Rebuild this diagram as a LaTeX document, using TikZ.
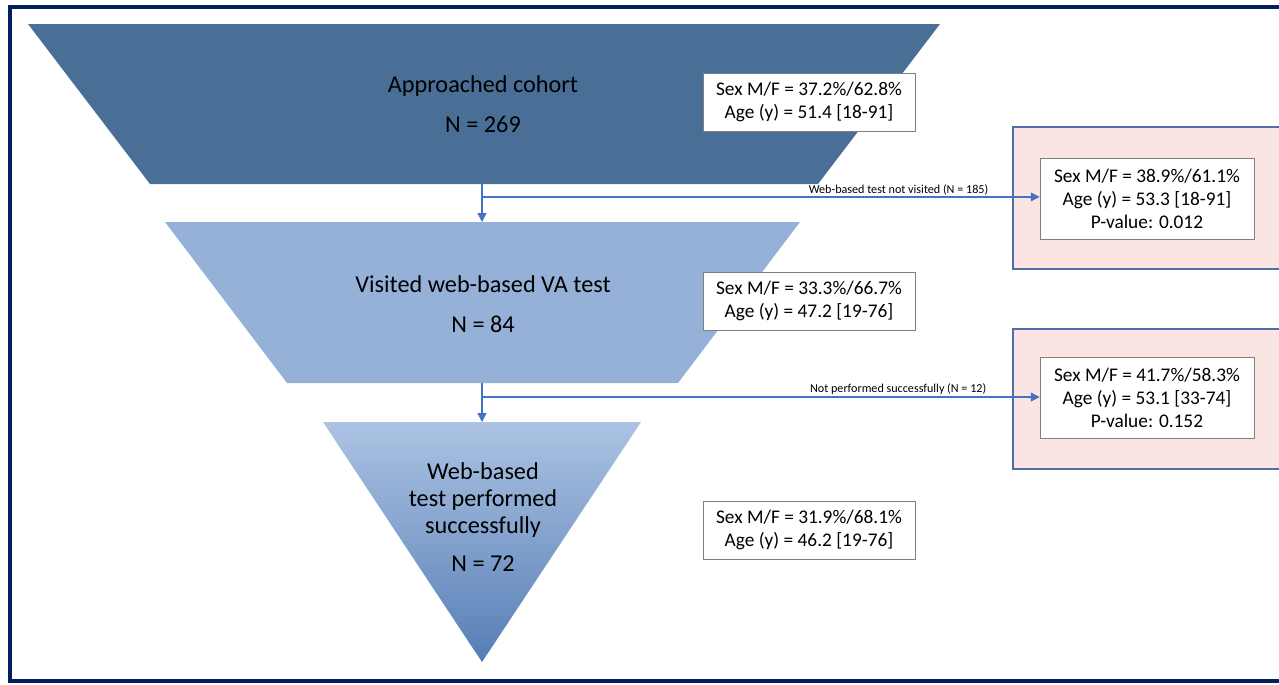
\documentclass[tikz,border=0pt]{standalone}
\usepackage{fontspec}
\setmainfont{Carlito}
\usetikzlibrary{positioning}
\usetikzlibrary{calc}
\usetikzlibrary{arrows.meta}
\definecolor{framenavy}{RGB}{4,30,94}
\definecolor{cohortblue}{RGB}{74,111,150}
\definecolor{visitblue}{RGB}{149,177,215}
\definecolor{tritop}{RGB}{172,195,227}
\definecolor{tribottom}{RGB}{86,126,181}
\definecolor{linkblue}{RGB}{68,114,196}
\definecolor{pinkfill}{RGB}{251,229,227}
\definecolor{pinkedge}{RGB}{80,110,170}
\newcommand{\funnelfont}{\fontsize{13.8}{15.6}\selectfont}
\newcommand{\statfont}{\fontsize{11}{13.1}\selectfont}
\newcommand{\linkfont}{\fontsize{6.9}{8}\selectfont}

\begin{document}
\begin{tikzpicture}[x=0.02cm, y=-0.02cm, >={Triangle[length=5pt, width=5pt]}, font=\statfont]
    \tikzstyle{funneltext}=[align=center, inner sep=0pt, font=\funnelfont]
    \tikzstyle{stat}=[draw=gray, fill=white, minimum width=4.24cm, minimum height=1.16cm, align=center, inner sep=0pt]
    \tikzstyle{compare}=[draw=gray, fill=white, minimum width=4.28cm, minimum height=1.62cm, align=center, inner sep=0pt]
    \tikzstyle{pinkbox}=[draw=pinkedge, fill=pinkfill, line width=0.8pt, minimum width=5.6cm, inner sep=0pt]
    \tikzstyle{link}=[->, draw=linkblue, line width=0.7pt]
    \tikzstyle{linklabel}=[inner sep=1pt, font=\linkfont]

    \clip (0,0) rectangle (1279,684);

    % frame
    \draw[framenavy, line width=0.08cm] (10,7) rectangle (1310,681);

    % funnel
    \fill[cohortblue] (28,24) -- (940,24) -- (818,184) -- (150,184) -- cycle;
    \fill[visitblue] (165,222) -- (800,222) -- (678,383) -- (287,383) -- cycle;
    \shade[top color=tritop, bottom color=tribottom] (323,422) -- (641,422) -- (482,662) -- cycle;

    \node[funneltext] (approached) at (483,104) {Approached cohort\\[7pt]N = 269};
    \node[funneltext] (visited) at (483,304) {Visited web-based VA test\\[7pt]N = 84};
    \node[funneltext] (performed) at (483,517) {Web-based\\test performed\\successfully\\[6pt]N = 72};

    \coordinate (cohortbot) at (482,184);
    \coordinate (visittop) at (482,222);
    \coordinate (visitbot) at (482,383);
    \coordinate (tritop) at (482,422);
    \coordinate (branch1) at ($(cohortbot)!0.34!(visittop)$);
    \coordinate (branch2) at ($(visitbot)!0.36!(tritop)$);

    % group characteristics
    \node[stat] (statcohort) at (809,102) {Sex M/F = 37.2\%/62.8\%\\Age (y) = 51.4 [18-91]};
    \node[stat] (statvisit) at (809,301) {Sex M/F = 33.3\%/66.7\%\\Age (y) = 47.2 [19-76]};
    \node[stat] (statdone) at (809,530) {Sex M/F = 31.9\%/68.1\%\\Age (y) = 46.2 [19-76]};

    % drop-outs
    \node[pinkbox, minimum height=2.84cm] (notvisited) at (1153,198) {};
    \node[pinkbox, minimum height=2.8cm] (notdone) at (1153,399) {};
    \node[compare] (notvisitedstat) at (1147,198.5) {Sex M/F = 38.9\%/61.1\%\\Age (y) = 53.3 [18-91]\\P-value: 0.012};
    \node[compare] (notdonestat) at (1147,398) {Sex M/F = 41.7\%/58.3\%\\Age (y) = 53.1 [33-74]\\P-value: 0.152};

    \draw[link] (cohortbot) -- (visittop);
    \draw[link] (visitbot) -- (tritop);
    \draw[link] (branch1) -- (branch1 -| notvisitedstat.west);
    \draw[link] (branch2) -- (branch2 -| notdonestat.west);

    \node[linklabel, above left=0pt and 0.44cm] at (branch1 -| notvisited.west) {Web-based test not visited (N = 185)};
    \node[linklabel, above left=0pt and 0.48cm] at (branch2 -| notdone.west) {Not performed successfully (N = 12)};
\end{tikzpicture}
\end{document}
